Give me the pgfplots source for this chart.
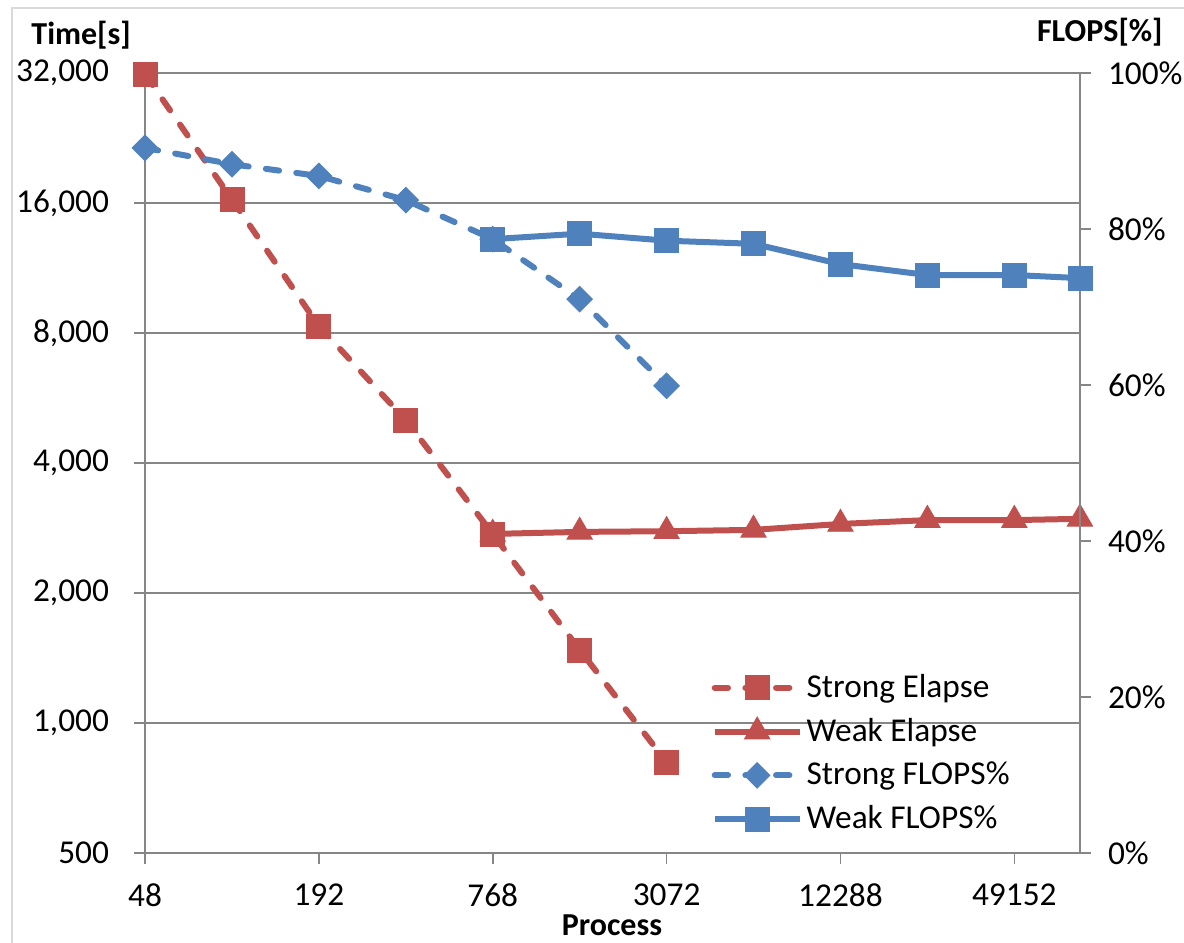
\documentclass[border=0pt]{standalone}
\usepackage{fontspec}
\setmainfont{Carlito}
\usepackage{pgfplots}
\pgfplotsset{compat=1.18}
\definecolor{xred}{RGB}{192,80,77}
\definecolor{xblue}{RGB}{79,129,189}
\definecolor{gridgray}{RGB}{134,134,134}
\definecolor{framegray}{RGB}{217,217,217}

\begin{document}
\begin{tikzpicture}
\useasboundingbox (0,0) rectangle (444pt,353.25pt);
\draw[framegray,line width=0.8pt] (4.5pt,-5pt) rectangle (450pt,350.25pt);

\begin{axis}[
  scale only axis,
  width=350.6pt, height=292.5pt,
  at={(54.375pt,33.375pt)}, anchor=south west,
  xmode=log, log basis x=2,
  xmin=48, xmax=82944,
  clip=false,
  tick style={draw=gridgray,line width=0.6pt},
  major tick length=4pt,
  tick align=outside,
  axis line style={draw=gridgray,line width=0.8pt},
  ticklabel style={font=\fontsize{12.5}{14}\selectfont},
  axis x line*=bottom, axis y line*=left,
  xtick={48,192,768,3072,12288,49152},
  xticklabels={48,192,768,3072,12288,49152},
  xticklabel style={yshift=-4pt},
  ymode=log, log basis y=2,
  ymin=500, ymax=32000,
  ytick={500,1000,2000,4000,8000,16000,32000},
  yticklabels={500,{1,000},{2,000},{4,000},{8,000},{16,000},{32,000}},
  yticklabel style={xshift=-6pt},
  ymajorgrids,
  grid style={draw=gridgray,line width=0.8pt},
]
% Weak Elapse
\addplot[xred,line width=2.25pt,solid,mark=triangle*,mark size=5.5pt,mark options={solid,line width=0.3pt}]
  coordinates {(768,2740)(1536,2770)(3072,2780)(6144,2800)(12288,2890)(24576,2950)(49152,2950)(82944,2970)};
% Strong Elapse
\addplot[xred,line width=2.25pt,dash pattern=on 5pt off 6.5pt,line cap=round,mark=square*,mark size=4.5pt,mark options={solid,line width=0.3pt}]
  coordinates {(48,31800)(96,16300)(192,8300)(384,5030)(768,2740)(1536,1476)(3072,812)};
\end{axis}

\begin{axis}[
  scale only axis,
  width=350.6pt, height=292.5pt,
  at={(54.375pt,33.375pt)}, anchor=south west,
  xmode=log, log basis x=2,
  xmin=48, xmax=82944,
  clip=false,
  tick style={draw=gridgray,line width=0.6pt},
  major tick length=4pt,
  tick align=outside,
  axis line style={draw=gridgray,line width=0.8pt},
  ticklabel style={font=\fontsize{12.5}{14}\selectfont},
  axis x line=none, axis y line*=right,
  ymin=0, ymax=100,
  ytick={0,20,40,60,80,100},
  yticklabels={0\%,20\%,40\%,60\%,80\%,100\%},
  yticklabel style={xshift=3pt},
  legend style={draw=none,fill=none,at={(0.597,0.242)},anchor=north west,
    font=\fontsize{12.5}{14}\selectfont,row sep=3.3pt,
    nodes={inner sep=1.5pt}},
  legend cell align=left,
  legend image code/.code={
    \draw[mark repeat=2,mark phase=2,#1] plot coordinates {(0cm,0cm)(0.56cm,0cm)(1.12cm,0cm)};},
]
\addlegendimage{xred,line width=2.25pt,dash pattern=on 5pt off 6.5pt,line cap=round,mark=square*,mark size=4.5pt,mark options={solid,line width=0.3pt}}
\addlegendentry{Strong Elapse}
\addlegendimage{xred,line width=2.25pt,solid,mark=triangle*,mark size=5.5pt,mark options={solid,line width=0.3pt}}
\addlegendentry{Weak Elapse}
% Strong FLOPS%
\addplot[xblue,line width=2.25pt,dash pattern=on 5pt off 6.5pt,line cap=round,mark=square*,mark size=3.4pt,mark options={solid,line width=0.3pt,rotate=45}]
  coordinates {(48,90.4)(96,88.3)(192,86.8)(384,83.7)(768,78.7)(1536,71.0)(3072,59.9)};
\addlegendentry{Strong FLOPS\%}
% Weak FLOPS%
\addplot[xblue,line width=2.25pt,solid,mark=square*,mark size=4.5pt,mark options={solid,line width=0.3pt}]
  coordinates {(768,78.7)(1536,79.4)(3072,78.5)(6144,78.1)(12288,75.5)(24576,74.1)(49152,74.1)(82944,73.7)};
\addlegendentry{Weak FLOPS\%}
\end{axis}

\node[anchor=base west,font=\bfseries\fontsize{12}{14}\selectfont] at (8.25pt,336.4pt) {Time[s]};
\node[anchor=base east,font=\bfseries\fontsize{12}{14}\selectfont] at (439.5pt,337.5pt) {FLOPS[\%]};
\node[anchor=base,font=\bfseries\fontsize{12}{14}\selectfont] at (229.5pt,2.6pt) {Process};
\end{tikzpicture}
\end{document}
